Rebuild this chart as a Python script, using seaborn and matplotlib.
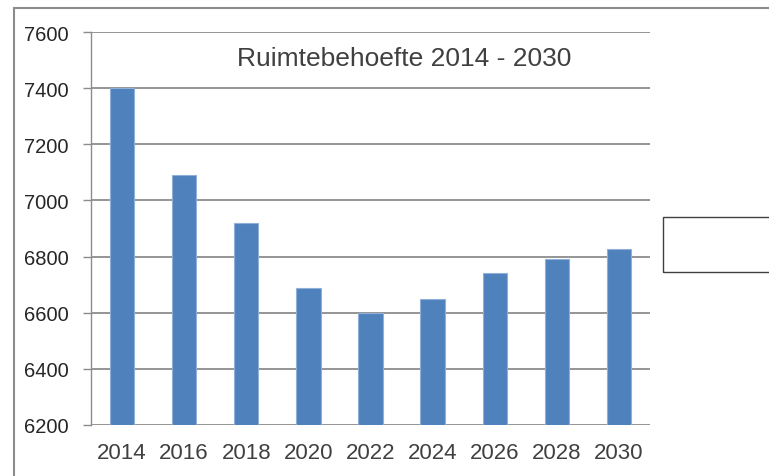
import matplotlib
matplotlib.use("Agg")
import matplotlib.pyplot as plt
from matplotlib.patches import Rectangle
import seaborn as sns
import pandas as pd

years = ["2014", "2016", "2018", "2020", "2022", "2024", "2026", "2028", "2030"]
values = [7400, 7090, 6918, 6687, 6598, 6649, 6743, 6790, 6828]
title = "Ruimtebehoefte 2014 - 2030"
yticks = [6200, 6400, 6600, 6800, 7000, 7200, 7400, 7600]

sns.set_theme(style="white")
plt.rcParams['font.family'] = ['Liberation Sans', 'DejaVu Sans']

W, H = 769, 477
fig = plt.figure(figsize=(W / 100, H / 100), dpi=100)
ax = fig.add_axes([91 / W, 1 - 426 / H, (650 - 91) / W, (426 - 33) / H])

df = pd.DataFrame({"year": years, "value": values})
sns.barplot(data=df, x="year", y="value", color="#4F81BD", width=0.39,
            edgecolor="#8fb0d8", linewidth=0.8, ax=ax, saturation=1)

ax.set_ylim(6200, 7600)
ax.set_yticks(yticks)
ax.set_xlim(-0.5, len(years) - 0.5)
ax.set_xlabel("")
ax.set_ylabel("")
ax.yaxis.grid(True, color="#8c8c8c", linewidth=1.3)
ax.set_axisbelow(True)
for s in ["top", "right", "bottom"]:
    ax.spines[s].set_visible(False)
ax.spines["left"].set_color("#8c8c8c")
ax.spines["left"].set_linewidth(1.0)
ax.tick_params(axis="y", which="both", left=True, length=6, width=1.0,
               color="#8c8c8c", labelsize=14.5, labelcolor="#262626", pad=10)
ax.tick_params(axis="x", bottom=False, labelsize=16, labelcolor="#404040", pad=6)

ax.text(0.56, 0.935, title, transform=ax.transAxes, ha="center", va="center",
        fontsize=19, color="#404040")

# Outer chart border and empty legend box
fig.patches.append(Rectangle((14 / W, -0.1), 1.2, 1 - 9 / H + 0.1,
                             transform=fig.transFigure, fill=False,
                             edgecolor="#8c8c8c", linewidth=1.5))
fig.patches.append(Rectangle((663 / W, 1 - 273 / H), 0.2, 55 / H,
                             transform=fig.transFigure, fill=False,
                             edgecolor="#404040", linewidth=1.0))

fig.savefig("out.png", dpi=100)
